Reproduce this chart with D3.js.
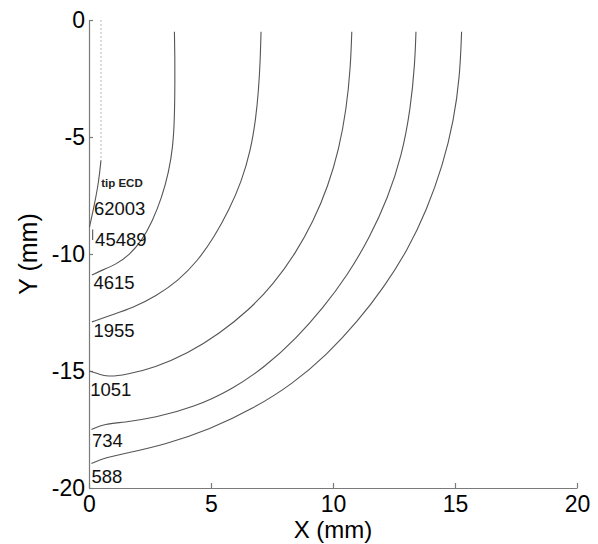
<!DOCTYPE html>
<html>
<head>
<meta charset="utf-8">
<script src="https://cdn.jsdelivr.net/npm/d3@7"></script>
<style>
  body { margin: 0; background: #fff; }
  svg { display: block; font-family: Arial, 'Liberation Sans', sans-serif; }
</style>
</head>
<body>
<svg id="drawing_region"></svg>
<script>

// contour lines, [x (mm), y (mm)]
const tipLine = [[0.49, 0], [0.49, -6.0]];
const c62003 = [[0.49, -6.0], [0.40, -6.9], [0.24, -7.8], [0.02, -8.85]];
const c45489 = [[0.15, -8.95], [0.15, -9.4]];
const c4615 = [[3.50, -0.5], [3.52, -1.5], [3.52, -3.0], [3.50, -4.3], [3.44, -5.4], [3.27, -6.5],
    [2.98, -7.6], [2.60, -8.6], [2.15, -9.45], [1.65, -10.05], [1.10, -10.45], [0.55, -10.68], [0.12, -10.9]];
const c1955 = [[7.05, -0.5], [7.02, -1.7], [6.95, -3.0], [6.84, -4.2], [6.62, -5.6], [6.25, -6.9],
    [5.75, -8.1], [5.15, -9.25], [4.45, -10.3], [3.65, -11.15], [2.75, -11.8], [1.80, -12.3],
    [0.95, -12.6], [0.12, -12.9]];
const c1051 = [[10.77, -0.5], [10.72, -2.0], [10.55, -3.8], [10.25, -5.5], [9.80, -7.1], [9.20, -8.6],
    [8.45, -10.0], [7.55, -11.3], [6.55, -12.4], [5.35, -13.4], [4.05, -14.25], [2.70, -14.85],
    [1.50, -15.17], [0.75, -15.25], [0.38, -15.12], [0.02, -15.0]];
const c734 = [[13.40, -0.5], [13.36, -1.8], [13.18, -3.8], [12.82, -5.8], [12.25, -7.6], [11.5, -9.3],
    [10.6, -10.9], [9.6, -12.3], [8.5, -13.6], [7.25, -14.8], [5.85, -15.8], [4.3, -16.55],
    [2.7, -17.0], [1.4, -17.2], [0.65, -17.26], [0.1, -17.5]];
const c588 = [[15.27, -0.5], [15.20, -2.4], [14.95, -4.3], [14.50, -6.2], [13.85, -8.1], [13.05, -9.85],
    [12.1, -11.4], [11.0, -12.9], [9.75, -14.3], [8.35, -15.55], [6.75, -16.6], [4.95, -17.5],
    [3.1, -18.15], [1.6, -18.5], [0.66, -18.7], [0.1, -18.95]];

// labels and where they sit (mm)
const labelTexts = ["62003", "45489", "4615", "1955", "1051", "734", "588"];
const labelX = [0.2, 0.25, 0.18, 0.18, 0.05, 0.12, 0.1];
const labelY = [-8.33, -9.66, -11.51, -13.53, -16.07, -18.23, -19.77];
const tipLabel = {text: "tip ECD", x: 0.5, y: -7.15};

const xTicks = [0, 5, 10, 15, 20];
const yTicks = [0, -5, -10, -15, -20];

class ContourPlot {

    constructor( config ) {
        this.config = config;
        this.init();
    }

    init() {
        let self = this;

        self.svg = d3.select( self.config.parent )
            .attr('width', self.config.width)
            .attr('height', self.config.height);

        self.inner_width = self.config.width - self.config.margin.left - self.config.margin.right;
        self.inner_height = self.config.height - self.config.margin.top - self.config.margin.bottom;

        self.chart = self.svg.append('g')
            .attr('transform', `translate(${self.config.margin.left}, ${self.config.margin.top})`);

        self.xscale = d3.scaleLinear()
            .domain( [0, 20] )
            .range( [0, self.inner_width] );

        self.yscale = d3.scaleLinear()
            .domain( [-20, 0] )
            .range( [self.inner_height, 0] );

        // plain hyphen for negatives, like the original
        self.xaxis = d3.axisBottom( self.xscale )
            .tickValues( xTicks )
            .tickFormat( d => String(d) )
            .tickSizeInner(-5)
            .tickSizeOuter(0)
            .tickPadding(8);

        self.yaxis = d3.axisLeft( self.yscale )
            .tickValues( yTicks )
            .tickFormat( d => String(d) )
            .tickSizeInner(-4)
            .tickSizeOuter(0)
            .tickPadding(4);

        self.xaxis_group = self.chart.append('g')
            .attr('transform', `translate(0, ${self.inner_height})`);

        self.yaxis_group = self.chart.append('g');

        self.line = d3.line()
            .x( d => self.xscale( d[0] ) )
            .y( d => self.yscale( d[1] ) )
            .curve( d3.curveBasis );
    }

    render() {
        let self = this;

        self.chart.append('path')
            .attr('d', self.line( tipLine ))
            .attr('fill', 'none')
            .attr('stroke', '#b8b8b8')
            .attr('stroke-width', 1)
            .attr('stroke-dasharray', '2,2');

        self.chart.selectAll('.contour')
            .data([c62003, c45489, c4615, c1955, c1051, c734, c588])
            .enter()
            .append('path')
            .attr('class', 'contour')
            .attr('d', d => self.line( d ))
            .attr('fill', 'none')
            .attr('stroke', '#555')
            .attr('stroke-width', 1.1);

        self.chart.selectAll('.clabel')
            .data(labelTexts)
            .enter()
            .append('text')
            .attr('class', 'clabel')
            .attr('x', (d, i) => self.xscale( labelX[i] ))
            .attr('y', (d, i) => self.yscale( labelY[i] ))
            .attr('font-size', '18.5px')
            .attr('fill', '#111')
            .text( d => d );

        self.chart.append('text')
            .attr('x', self.xscale( tipLabel.x ))
            .attr('y', self.yscale( tipLabel.y ))
            .attr('font-size', '11.5px')
            .attr('font-weight', 'bold')
            .attr('fill', '#222')
            .text( tipLabel.text );

        self.xaxis_group.call( self.xaxis );
        self.yaxis_group.call( self.yaxis );

        self.chart.selectAll('.domain, .tick line')
            .attr('stroke', '#7a7a7a')
            .attr('stroke-width', 1.2);
        self.chart.selectAll('.tick text')
            .attr('font-size', '23px')
            .attr('font-family', "Arial, 'Liberation Sans', sans-serif")
            .attr('fill', '#000');

        self.svg.append('text')
            .attr('x', self.config.margin.left + self.inner_width / 2)
            .attr('y', 538)
            .attr('text-anchor', 'middle')
            .attr('font-size', '24px')
            .text('X (mm)');

        self.svg.append('text')
            .attr('transform', `translate(37, ${self.config.margin.top + self.inner_height / 2}) rotate(-90)`)
            .attr('text-anchor', 'middle')
            .attr('font-size', '25px')
            .text('Y (mm)');
    }
}

var config = {
    parent: '#drawing_region',
    width: 598,
    height: 544,
    margin: {top: 20, right: 21, bottom: 56, left: 89}
};

const plot = new ContourPlot( config );
plot.render();

</script>
</body>
</html>
